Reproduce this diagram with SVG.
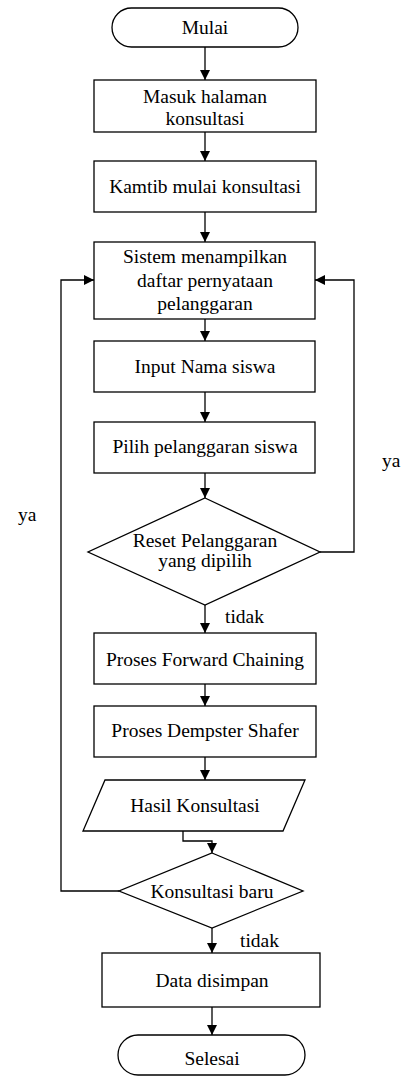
<svg xmlns="http://www.w3.org/2000/svg" width="403" height="1076" viewBox="0 0 403 1076">
  <defs>
    <style>
      .shape { fill: #ffffff; stroke: #000000; stroke-width: 1.3; }
      .link { fill: none; stroke: #000000; stroke-width: 1.3; }
      .label { font-family: 'Liberation Serif', 'Times New Roman', serif; font-size: 19.5px; fill: #000000; text-anchor: middle; }
      .note { font-family: 'Liberation Serif', 'Times New Roman', serif; font-size: 19.5px; fill: #000000; }
    </style>
    <marker id="arrow" viewBox="0 0 10 10" refX="10" refY="5" markerWidth="10" markerHeight="10" markerUnits="userSpaceOnUse" orient="auto">
      <path d="M0,0 L10,5 L0,10 z" fill="#000000"/>
    </marker>
  </defs>

  <rect width="403" height="1076" fill="#ffffff"/>

  <!-- connectors -->
  <g id="connectors">
    <line class="link" x1="205" y1="47" x2="205" y2="80" marker-end="url(#arrow)"/>
    <line class="link" x1="205" y1="132" x2="205" y2="161" marker-end="url(#arrow)"/>
    <line class="link" x1="205" y1="212" x2="205" y2="242" marker-end="url(#arrow)"/>
    <line class="link" x1="205" y1="319" x2="205" y2="341" marker-end="url(#arrow)"/>
    <line class="link" x1="205" y1="392" x2="205" y2="422" marker-end="url(#arrow)"/>
    <line class="link" x1="205" y1="473" x2="205" y2="498" marker-end="url(#arrow)"/>
    <!-- ya: back to the statement list (right side) -->
    <polyline class="link" points="320,552 354,552 354,280 315,280" marker-end="url(#arrow)"/>
    <!-- tidak -->
    <line class="link" x1="205" y1="605" x2="205" y2="633" marker-end="url(#arrow)"/>
    <line class="link" x1="205" y1="684" x2="205" y2="706" marker-end="url(#arrow)"/>
    <line class="link" x1="205" y1="757" x2="205" y2="780" marker-end="url(#arrow)"/>
    <polyline class="link" points="183,831 183,841 212,841 212,853" marker-end="url(#arrow)"/>
    <!-- ya: new consultation (left side) -->
    <polyline class="link" points="119,891 61,891 61,280 94,280" marker-end="url(#arrow)"/>
    <line class="link" x1="212" y1="928" x2="212" y2="953" marker-end="url(#arrow)"/>
    <line class="link" x1="212" y1="1007" x2="212" y2="1035" marker-end="url(#arrow)"/>
    <text class="note" x="382" y="467">ya</text>
    <text class="note" x="18" y="521">ya</text>
    <text class="note" x="225" y="623">tidak</text>
    <text class="note" x="240" y="947">tidak</text>
  </g>

  <g id="start">
    <rect class="shape" x="112" y="8" width="186" height="39" rx="19.5"/>
    <text class="label" x="205" y="34">Mulai</text>
  </g>

  <g id="masuk">
    <rect class="shape" x="94" y="80" width="222" height="52"/>
    <text class="label" x="205" y="103">Masuk halaman</text>
    <text class="label" x="205" y="125">konsultasi</text>
  </g>

  <g id="kamtib">
    <rect class="shape" x="94" y="161" width="222" height="51"/>
    <text class="label" x="205" y="193">Kamtib mulai konsultasi</text>
  </g>

  <g id="sistem">
    <rect class="shape" x="94" y="242" width="221" height="77"/>
    <text class="label" x="205" y="263">Sistem menampilkan</text>
    <text class="label" x="205" y="287">daftar pernyataan</text>
    <text class="label" x="205" y="310">pelanggaran</text>
  </g>

  <g id="input-nama">
    <rect class="shape" x="94" y="341" width="221" height="51"/>
    <text class="label" x="205" y="373">Input Nama siswa</text>
  </g>

  <g id="pilih">
    <rect class="shape" x="94" y="422" width="221" height="51"/>
    <text class="label" x="205" y="453">Pilih pelanggaran siswa</text>
  </g>

  <g id="reset">
    <polygon class="shape" points="205,498 320,552 205,605 88,552"/>
    <text class="label" x="205" y="547">Reset Pelanggaran</text>
    <text class="label" x="205" y="567">yang dipilih</text>
  </g>

  <g id="forward-chaining">
    <rect class="shape" x="94" y="633" width="222" height="51"/>
    <text class="label" x="205" y="666">Proses Forward Chaining</text>
  </g>

  <g id="dempster-shafer">
    <rect class="shape" x="94" y="706" width="222" height="51"/>
    <text class="label" x="205" y="737">Proses Dempster Shafer</text>
  </g>

  <g id="hasil">
    <polygon class="shape" points="105,780 305,780 283,831 83,831"/>
    <text class="label" x="195" y="812">Hasil Konsultasi</text>
  </g>

  <g id="konsultasi-baru">
    <polygon class="shape" points="212,853 303,891 212,928 119,891"/>
    <text class="label" x="212" y="898">Konsultasi baru</text>
  </g>

  <g id="simpan">
    <rect class="shape" x="102" y="953" width="218" height="54"/>
    <text class="label" x="212" y="987">Data disimpan</text>
  </g>

  <g id="end">
    <rect class="shape" x="118" y="1035" width="187" height="40" rx="20"/>
    <text class="label" x="212" y="1065">Selesai</text>
  </g>
</svg>
